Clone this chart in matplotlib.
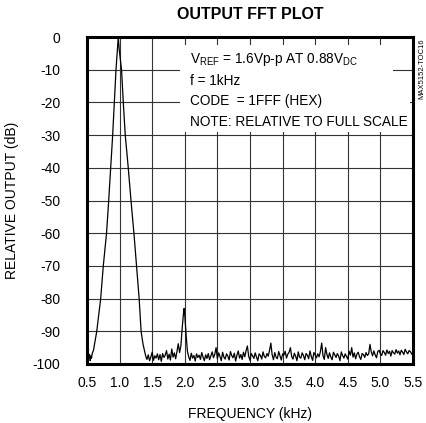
import numpy as np
import matplotlib.pyplot as plt
from matplotlib.patches import Rectangle

plt.rcParams['font.family'] = ['Liberation Sans', 'DejaVu Sans']
plt.rcParams['mathtext.default'] = 'regular'

# fundamental at 1kHz (with the floor just left of it)
tone_freq = [0.50, 0.51, 0.52, 0.53, 0.54, 0.55, 0.56, 0.57, 0.58, 0.60, 0.62,
             0.65, 0.71, 0.75, 0.80, 0.833, 0.863, 0.894, 0.919, 0.945, 0.965, 0.98,
             0.995, 1.03, 1.057, 1.087, 1.133, 1.175, 1.22, 1.26, 1.30, 1.33, 1.36, 1.40]
tone_db = [-97.5, -98.8, -96.9, -98.3, -97.1, -99.0, -97.6, -98.2, -96.8, -95.8, -93.5,
           -90, -80, -70, -60, -50, -40, -30, -20, -10, -4, 0,
           -4, -10, -20, -30, -40, -50, -60, -70, -80, -90, -94, -97.5]

# noise floor 1.42 .. 1.92 kHz, 20Hz bins
floor1_start = 1.42
floor1_db = [-98.6, -97.2, -99.0, -97.8, -96.4, -98.9, -97.5, -98.2, -96.9, -98.7,
             -97.1, -99.2, -96.8, -98.0, -97.3, -95.9, -98.5, -97.0, -98.8, -95.4,
             -97.9, -96.6, -98.4, -96.2, -93.8, -96.5]

# 2nd harmonic
spur_freq = [1.94, 1.96, 1.98, 1.99, 2.00, 2.02, 2.04]
spur_db = [-94.5, -89, -84.5, -83, -85, -91, -96]

# noise floor 2.06 .. 5.50 kHz, 20Hz bins
floor2_start = 2.06
floor2_db = [-97.8, -98.9, -96.7, -98.2, -97.4, -99.1, -96.9, -98.0, -97.3, -98.6,
             -96.5, -97.9, -99.0, -97.2, -98.3, -96.8, -98.7, -97.5, -96.3, -98.1,
             -97.0, -95.0, -98.4, -96.6, -97.7, -99.0, -96.4, -97.9, -98.5, -96.9,
             -97.6, -98.8, -96.2, -97.4, -98.1, -96.7, -99.1, -97.3, -96.0, -98.2,
             -97.1, -98.6, -96.4, -97.8, -95.9, -94.5, -97.6, -98.9, -96.8, -97.5,
             -98.3, -96.6, -97.9, -99.0, -96.9, -97.4, -98.5, -96.3, -97.7, -98.1,
             -96.8, -97.6, -95.8, -93.6, -97.2, -98.7, -96.5, -97.9, -98.4, -96.2,
             -97.5, -98.8, -96.9, -97.3, -96.1, -98.2, -97.0, -96.4, -95.0, -97.8,
             -98.5, -96.7, -97.6, -99.0, -96.3, -97.9, -98.2, -96.6, -97.4, -98.7,
             -96.8, -97.3, -98.4, -96.0, -97.7, -98.9, -96.5, -97.2, -98.1, -96.9,
             -97.8, -96.2, -93.6, -97.5, -98.6, -95.0, -97.1, -98.3, -96.6, -97.9,
             -98.7, -96.4, -97.2, -98.0, -96.8, -97.6, -99.0, -96.3, -97.4, -98.2,
             -96.9, -97.7, -98.5, -96.1, -97.3, -95.0, -97.9, -96.6, -98.4, -97.0,
             -96.4, -97.8, -98.6, -96.8, -97.1, -98.0, -96.5, -97.4, -96.9, -94.0,
             -96.3, -97.5, -96.0, -97.2, -98.1, -96.2, -95.8, -96.9, -97.4, -95.9,
             -96.5, -97.3, -95.7, -96.8, -96.1, -97.6, -95.9, -96.6, -97.0, -95.6,
             -96.7, -96.0, -97.2, -95.8, -96.4, -97.1, -95.5, -96.3, -96.9, -95.9,
             -96.2, -97.0, -96.4]

x_ticks = [0.5, 1.0, 1.5, 2.0, 2.5, 3.0, 3.5, 4.0, 4.5, 5.0, 5.5]
y_ticks = [0, -10, -20, -30, -40, -50, -60, -70, -80, -90, -100]

notes = ['V$_{REF}$ = 1.6Vp-p AT 0.88V$_{DC}$',
         'f = 1kHz',
         'CODE  = 1FFF (HEX)',
         'NOTE: RELATIVE TO FULL SCALE']

bin_step = 0.02
freq = np.concatenate([tone_freq,
                       floor1_start + bin_step * np.arange(len(floor1_db)),
                       spur_freq,
                       floor2_start + bin_step * np.arange(len(floor2_db))])
level = np.concatenate([tone_db, floor1_db, spur_db, floor2_db])

fig = plt.figure(figsize=(4.27, 4.23), dpi=100)
ax = fig.add_axes([0.2037, 0.1395, 0.7635, 0.773])

ax.plot(freq, level, color='black', lw=0.9, zorder=2)

ax.set_xlim(0.5, 5.5)
ax.set_ylim(-100, 0)
ax.set_xticks(x_ticks)
ax.set_xticklabels([f'{t:.1f}' for t in x_ticks])
ax.set_yticks(y_ticks)
ax.set_yticklabels([str(t) for t in y_ticks])
ax.tick_params(axis='both', length=0, labelsize=10)
ax.tick_params(axis='y', pad=19)
ax.tick_params(axis='x', pad=9)

ax.set_axisbelow(True)
ax.grid(True, color='#333333', lw=0.8)
for s in ax.spines.values():
    s.set_linewidth(2.2)

ax.set_xlabel('FREQUENCY (kHz)', fontsize=10, labelpad=12)
ax.set_ylabel('RELATIVE OUTPUT (dB)', fontsize=10, labelpad=10)
ax.set_title('OUTPUT FFT PLOT', fontsize=11.5, fontweight='bold', pad=13)

# white panels behind the notes so the grid doesn't run through them
for x0, x1, y0, y1 in [(1.926, 5.193, -16.6, -2.4),
                       (1.926, 5.454, -29.0, -16.2)]:
    ax.add_patch(Rectangle((x0, y0), x1 - x0, y1 - y0, facecolor='white',
                           edgecolor='none', zorder=1.5))

for i, txt in enumerate(notes):
    ax.text(2.08, [-7.0, -13.5, -19.6, -26.0][i], txt, fontsize=9.8,
            va='center', ha='left', zorder=3)

fig.text(0.988, 0.910, 'MAX5152-TOC16', rotation=90, fontsize=5.5,
         ha='center', va='top')

fig.savefig('out.png', dpi=100)
